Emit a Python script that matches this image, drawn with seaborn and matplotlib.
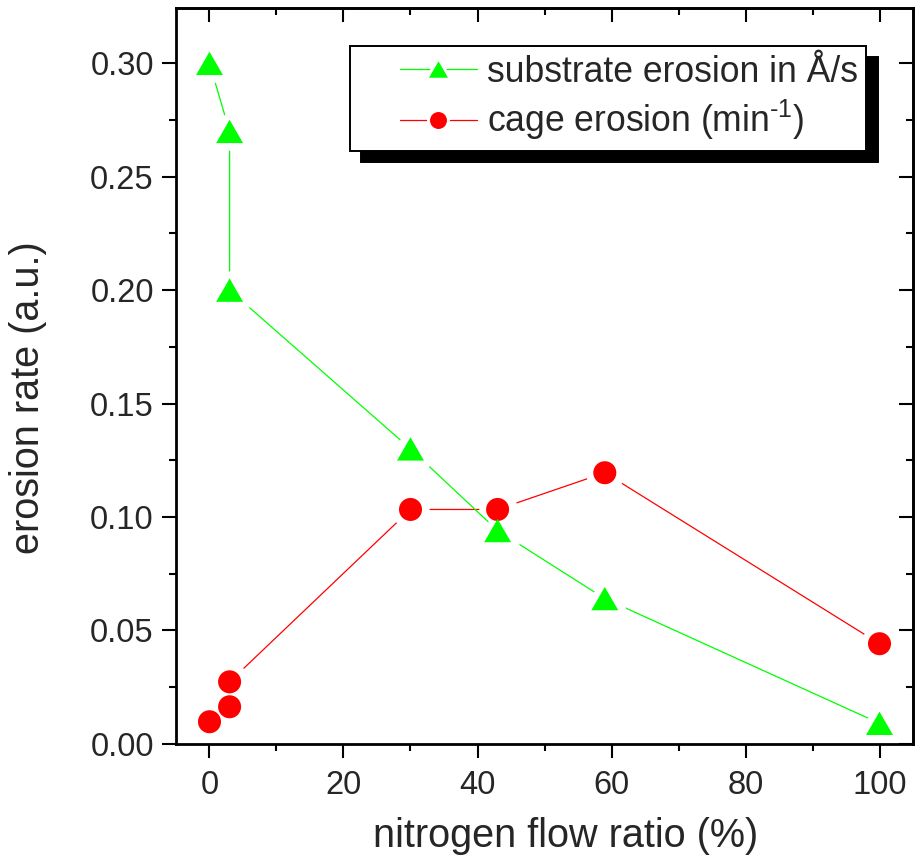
import numpy as np
import pandas as pd
import matplotlib
matplotlib.use("Agg")
import matplotlib.pyplot as plt
import seaborn as sns
from matplotlib.lines import Line2D
from matplotlib.path import Path
from matplotlib.legend_handler import HandlerLine2D, HandlerTuple
from matplotlib.ticker import MultipleLocator, FormatStrFormatter

# values
flow_substrate = [0, 3, 3, 30, 43, 59, 100]
rate_substrate = [0.300, 0.270, 0.200, 0.130, 0.094, 0.064, 0.009]
flow_cage = [0, 3, 3, 30, 43, 59, 100]
rate_cage = [0.0097, 0.0163, 0.0273, 0.1033, 0.1033, 0.1195, 0.0441]

label_substrate = "substrate erosion in Å/s"
label_cage = r"cage erosion (min$^{\text{-1}}$)"
x_label = "nitrogen flow ratio (%)"
y_label = "erosion rate (a.u.)"

GREEN = "#00ff00"
RED = "#ff0000"

sns.set_theme(style="white")
plt.rcParams["font.family"] = ["Liberation Sans", "DejaVu Sans"]
plt.rcParams["mathtext.fontset"] = "custom"
plt.rcParams["mathtext.rm"] = "Liberation Sans"
plt.rcParams["mathtext.it"] = "Liberation Sans:italic"
plt.rcParams["mathtext.default"] = "regular"

df_sub = pd.DataFrame({"flow": flow_substrate, "rate": rate_substrate})
df_cage = pd.DataFrame({"flow": flow_cage, "rate": rate_cage})

# equilateral triangle like Origin's
tri = Path([(-1, -0.866), (1, -0.866), (0, 0.866), (-1, -0.866)],
           [Path.MOVETO, Path.LINETO, Path.LINETO, Path.CLOSEPOLY])

fig = plt.figure(figsize=(9.2, 8.64), dpi=100)
ax = fig.add_axes([0.1913, 0.1392, 0.8011, 0.8515])

# lines, then a white halo so the line stops short of each marker
common = dict(x="flow", y="rate", ax=ax, sort=False, estimator=None, legend=False)
sns.lineplot(data=df_cage, color=RED, linewidth=0.9, zorder=2.0, **common)
sns.scatterplot(data=df_cage, x="flow", y="rate", ax=ax, marker="o", s=275,
                color="white", edgecolor="white", linewidth=11, zorder=2.1, legend=False)
sns.lineplot(data=df_sub, color=GREEN, linewidth=0.9, zorder=2.2, **common)
sns.scatterplot(data=df_sub, x="flow", y="rate", ax=ax, marker=tri, s=377,
                color="white", edgecolor="white", linewidth=11, zorder=2.3, legend=False)
sns.scatterplot(data=df_cage, x="flow", y="rate", ax=ax, marker="o", s=275,
                color=RED, edgecolor="none", linewidth=0, zorder=3.0, legend=False)
sns.scatterplot(data=df_sub, x="flow", y="rate", ax=ax, marker=tri, s=377,
                color=GREEN, edgecolor="none", linewidth=0, zorder=3.1, legend=False)

ax.set_xlim(-5, 105)
ax.set_ylim(0, 0.3244)
ax.xaxis.set_major_locator(MultipleLocator(20))
ax.xaxis.set_minor_locator(MultipleLocator(10))
ax.yaxis.set_major_locator(MultipleLocator(0.05))
ax.yaxis.set_minor_locator(MultipleLocator(0.025))
ax.yaxis.set_major_formatter(FormatStrFormatter("%.2f"))

for s in ax.spines.values():
    s.set_visible(True)
    s.set_color("black")
    s.set_linewidth(2.0)

ax.tick_params(which="both", direction="out", color="black", width=1.5,
               bottom=True, left=True, top=False, right=False)
ax.tick_params(which="major", length=10, labelsize=23.5, pad=6)
ax.tick_params(axis="x", which="major", pad=9)
ax.tick_params(which="minor", length=5)

# mirrored ticks pointing inward on top and right
top = ax.secondary_xaxis("top")
top.xaxis.set_major_locator(MultipleLocator(20))
top.xaxis.set_minor_locator(MultipleLocator(10))
right = ax.secondary_yaxis("right")
right.yaxis.set_major_locator(MultipleLocator(0.05))
right.yaxis.set_minor_locator(MultipleLocator(0.025))
for sec in (top, right):
    sec.tick_params(which="both", direction="in", width=1.5, labeltop=False,
                    labelright=False, color="black")
    sec.tick_params(which="major", length=10)
    sec.tick_params(which="minor", length=5)
    for s in sec.spines.values():
        s.set_linewidth(2.0)

ax.set_xlabel(x_label, fontsize=28.5)
ax.set_ylabel(y_label, fontsize=28.5)
ax.xaxis.set_label_coords(0.529, -0.099)
ax.yaxis.set_label_coords(-0.175, 0.47)


class OffsetLineHandler(HandlerLine2D):
    # line starts a bit in from the left, like Origin's legend
    def __init__(self, offset, **kw):
        super().__init__(**kw)
        self.offset = offset

    def get_xdata(self, legend, xdescent, ydescent, width, height, fontsize):
        x0 = -xdescent + self.offset * fontsize
        x1 = -xdescent + width
        return [x0, x1], [0.5 * (x0 + x1)]


def legend_entry(color, marker, ms):
    line = Line2D([], [], color=color, linewidth=0.9)
    halo = Line2D([], [], linestyle="none", marker=marker, markersize=ms,
                  markerfacecolor="white", markeredgecolor="white", markeredgewidth=4.3)
    mark = Line2D([], [], linestyle="none", marker=marker, markersize=ms,
                  markerfacecolor=color, markeredgecolor="none")
    return (line, halo, mark)


handles = [legend_entry(GREEN, tri, 13.7), legend_entry(RED, "o", 12.2)]
leg = ax.legend(handles, [label_substrate, label_cage],
                handler_map={tuple: HandlerTuple(ndivide=1),
                             Line2D: OffsetLineHandler(1.15)},
                loc="upper left", bbox_to_anchor=(0.2361, 0.9488), borderaxespad=0,
                fontsize=25.6, frameon=True, fancybox=False, framealpha=1,
                borderpad=0.25, handlelength=3.31, handletextpad=0.28,
                labelspacing=0.23,
                shadow={"ox": 8, "oy": -8, "color": "black", "alpha": 1})
leg.get_frame().set_edgecolor("black")
leg.get_frame().set_linewidth(1.4)
leg.get_frame().set_facecolor("white")

fig.savefig("out.png", dpi=100)
